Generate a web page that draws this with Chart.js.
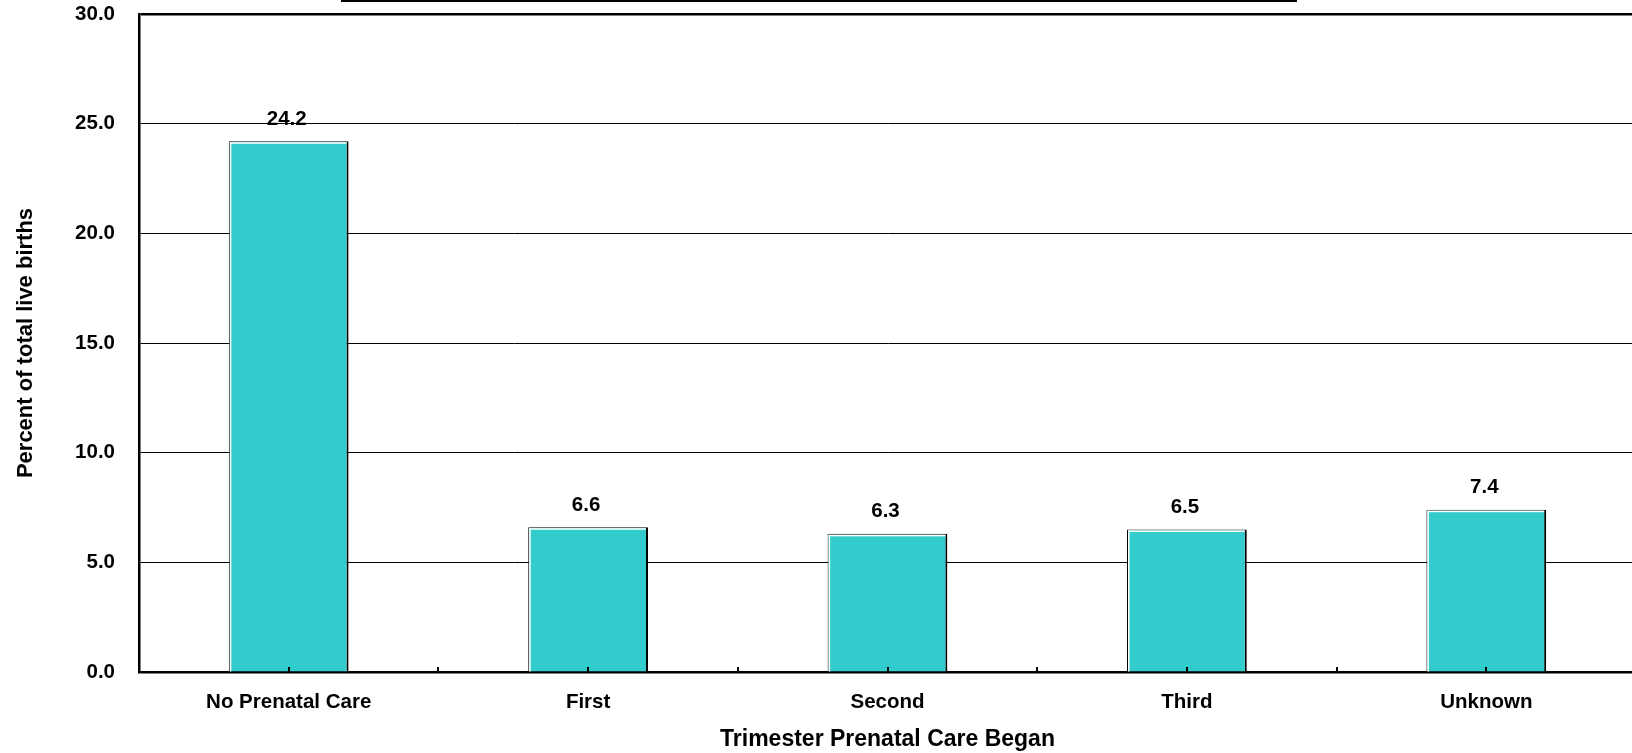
<!DOCTYPE html>
<html>
<head>
<meta charset="utf-8">
<script src="https://cdn.jsdelivr.net/npm/chart.js@4/dist/chart.umd.min.js"></script>
<style>
  html, body { margin: 0; padding: 0; background: #fff; overflow: hidden; }
  #wrap { width: 1640px; height: 753px; position: relative; }
</style>
</head>
<body>
<div id="wrap"><canvas id="c"></canvas></div>
<script>
const categories = ["No Prenatal Care", "First", "Second", "Third", "Unknown"];
const percentValues = [24.2, 6.6, 6.3, 6.5, 7.4];
const valueLabels = ["24.2", "6.6", "6.3", "6.5", "7.4"];
const yTickValues = [0, 5, 10, 15, 20, 25, 30];

const FONT = "'Liberation Sans', Arial, Helvetica, sans-serif";

const decorPlugin = {
  id: 'decor',
  beforeDraw(chart) {
    const ctx = chart.ctx;
    ctx.save();
    ctx.fillStyle = '#000';
    // fragment of the cut-off title underline at the very top
    ctx.fillRect(341, 0, 956, 2);
    ctx.restore();
  },
  afterDatasetsDraw(chart) {
    const ctx = chart.ctx;
    const meta = chart.getDatasetMeta(0);
    const xs = chart.scales.x;
    const area = chart.chartArea;
    ctx.save();
    // white inner highlight on bars (top and left)
    meta.data.forEach((bar) => {
      const p = bar.getProps(['x', 'y', 'base', 'width'], true);
      const left = p.x - p.width / 2;
      const right = p.x + p.width / 2;
      ctx.fillStyle = '#fff';
      ctx.fillRect(left + 1, p.y + 1, 1.5, p.base - p.y - 1);
      ctx.fillRect(left + 1, p.y + 1, right - left - 3, 1.5);
    });
    // small tick marks pointing up, at every half category
    ctx.fillStyle = '#000';
    for (let i = 0; i < categories.length; i++) {
      const c = xs.getPixelForValue(i);
      ctx.fillRect(Math.round(c) - 1, area.bottom - 5, 2, 5);
      if (i < categories.length - 1) {
        const b = (xs.getPixelForValue(i) + xs.getPixelForValue(i + 1)) / 2;
        ctx.fillRect(Math.round(b) - 1, area.bottom - 5, 2, 5);
      }
    }
    // value labels
    ctx.font = "bold 20.5px " + FONT;
    ctx.textAlign = 'center';
    ctx.textBaseline = 'middle';
    meta.data.forEach((bar, i) => {
      ctx.fillText(valueLabels[i], bar.x - 2, bar.y - 22);
    });
    ctx.restore();
  }
};

new Chart(document.getElementById('c'), {
  type: 'bar',
  data: {
    labels: categories,
    datasets: [{
      data: percentValues,
      backgroundColor: '#33CCCC',
      borderColor: '#000',
      borderWidth: { top: 1, left: 1, right: 2, bottom: 0 },
      borderSkipped: 'bottom',
      barPercentage: 0.4,
      categoryPercentage: 1.0
    }]
  },
  options: {
    responsive: true,
    maintainAspectRatio: false,
    animation: false,
    events: [],
    layout: { padding: { top: 14, right: 4, left: 0, bottom: 0 } },
    plugins: {
      legend: { display: false },
      tooltip: { enabled: false },
      title: { display: false }
    },
    scales: {
      x: {
        type: 'category',
        offset: true,
        grid: { display: false, drawTicks: false },
        border: { display: true, color: '#000', width: 2.5 },
        ticks: {
          color: '#000',
          font: { family: FONT, size: 20.5, weight: 'bold' },
          padding: 18.5,
          maxRotation: 0,
          autoSkip: false
        },
        title: {
          display: true,
          text: 'Trimester Prenatal Care Began',
          color: '#000',
          font: { family: FONT, size: 23, weight: 'bold' },
          padding: { top: 0, bottom: 0 }
        },
        afterFit(scale) {
          scale.height = 81;
          scale.paddingLeft = 0;
          scale.paddingRight = 0;
        }
      },
      y: {
        min: 0,
        max: 30,
        afterBuildTicks(scale) { scale.ticks = yTickValues.map(v => ({ value: v })); },
        grid: {
          color: '#000',
          lineWidth: (ctx) => (ctx.tick && (ctx.tick.value === 30) ? 2.5 : 1),
          drawTicks: false
        },
        border: { display: true, color: '#000', width: 2.5 },
        ticks: {
          color: '#000',
          font: { family: FONT, size: 20.5, weight: 'bold' },
          padding: 24,
          callback: (v) => Number(v).toFixed(1)
        },
        title: {
          display: true,
          text: 'Percent of total live births',
          color: '#000',
          font: { family: FONT, size: 22, weight: 'bold' },
          padding: { top: 13, bottom: 0 }
        },
        afterFit(scale) {
          scale.width = 139;
          scale.paddingTop = 10;
          scale.paddingBottom = 10;
        }
      }
    }
  },
  plugins: [decorPlugin]
});
</script>
</body>
</html>
